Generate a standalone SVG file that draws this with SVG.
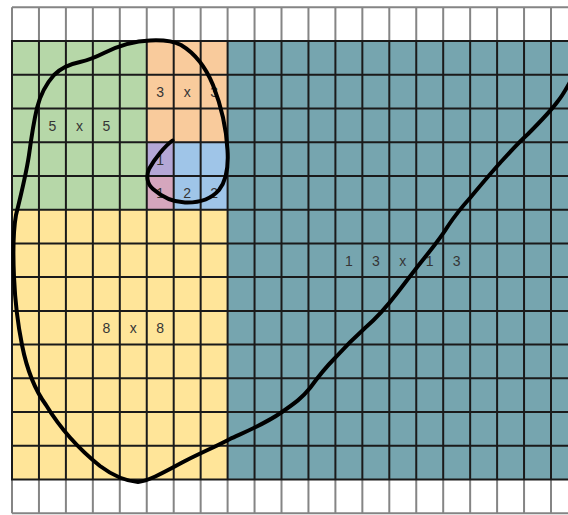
<svg xmlns="http://www.w3.org/2000/svg" width="568" height="515" viewBox="0 0 568 515">
<style>
.t{font-family:"Liberation Sans",Arial,sans-serif;font-size:14px;fill:#353535;text-anchor:middle}
.gd{stroke:#1a1a1a;stroke-width:2;fill:none}
.gl{stroke:#858585;stroke-width:2;fill:none}
.sp{stroke:#000;stroke-width:4;fill:none;stroke-linejoin:round;stroke-linecap:round}
</style>
<rect width="568" height="515" fill="#fff"/>
<g id="sq13"><rect x="227.6" y="41" width="350" height="438.5" fill="#76a5af"/></g>
<g id="sq8"><rect x="12" y="209.7" width="215.6" height="269.8" fill="#ffe599"/></g>
<g id="sq5"><rect x="12" y="41" width="134.75" height="168.7" fill="#b6d7a8"/></g>
<g id="sq3"><rect x="146.75" y="41" width="80.85" height="101.2" fill="#f9cb9c"/></g>
<g id="sq2"><rect x="173.7" y="142.2" width="53.9" height="67.5" fill="#9fc5e8"/></g>
<g id="sq1a"><rect x="146.75" y="142.2" width="26.95" height="33.7" fill="#b4a7d6"/></g>
<g id="sq1b"><rect x="146.75" y="175.9" width="26.95" height="33.8" fill="#d5a6bd"/></g>
<g id="grid">
<path class="gl" d="M12 7.3H568M12 513.3H568M12 7.3V41M38.95 7.3V41M65.9 7.3V41M92.85 7.3V41M119.8 7.3V41M146.75 7.3V41M173.7 7.3V41M200.65 7.3V41M227.6 7.3V41M254.55 7.3V41M281.5 7.3V41M308.45 7.3V41M335.4 7.3V41M362.35 7.3V41M389.3 7.3V41M416.25 7.3V41M443.2 7.3V41M470.15 7.3V41M497.1 7.3V41M524.05 7.3V41M551 7.3V41M12 479.5V513.3M38.95 479.5V513.3M65.9 479.5V513.3M92.85 479.5V513.3M119.8 479.5V513.3M146.75 479.5V513.3M173.7 479.5V513.3M200.65 479.5V513.3M227.6 479.5V513.3M254.55 479.5V513.3M281.5 479.5V513.3M308.45 479.5V513.3M335.4 479.5V513.3M362.35 479.5V513.3M389.3 479.5V513.3M416.25 479.5V513.3M443.2 479.5V513.3M470.15 479.5V513.3M497.1 479.5V513.3M524.05 479.5V513.3M551 479.5V513.3"/>
<path class="gd" d="M12 41V479.5M38.95 41V479.5M65.9 41V479.5M92.85 41V479.5M119.8 41V479.5M146.75 41V479.5M173.7 41V479.5M200.65 41V479.5M227.6 41V479.5M254.55 41V479.5M281.5 41V479.5M308.45 41V479.5M335.4 41V479.5M362.35 41V479.5M389.3 41V479.5M416.25 41V479.5M443.2 41V479.5M470.15 41V479.5M497.1 41V479.5M524.05 41V479.5M551 41V479.5M11 41H568M11 74.8H568M11 108.5H568M11 142.2H568M11 175.9H568M11 209.7H568M11 243.4H568M11 277.1H568M11 310.9H568M11 344.6H568M11 378.3H568M11 412.1H568M11 445.8H568M11 479.5H568"/>
</g>
<g id="labels">
<text class="t" x="52.4" y="131">5</text><text class="t" x="79.4" y="131">x</text><text class="t" x="106.3" y="131">5</text>
<text class="t" x="160.2" y="97">3</text><text class="t" x="187.2" y="97">x</text><text class="t" x="214.1" y="97">3</text>
<text class="t" x="160.2" y="164.5">1</text>
<text class="t" x="160.2" y="198.3">1</text><text class="t" x="187.2" y="198.3">2</text><text class="t" x="214.1" y="198.3">2</text>
<text class="t" x="106.3" y="333">8</text><text class="t" x="133.3" y="333">x</text><text class="t" x="160.2" y="333">8</text>
<text class="t" x="348.9" y="265.7">1</text><text class="t" x="375.8" y="265.7">3</text><text class="t" x="402.8" y="265.7">x</text><text class="t" x="429.7" y="265.7">1</text><text class="t" x="456.6" y="265.7">3</text>
</g>
<g id="connectors">
<path class="sp" d="M172.5 140.5 C165 146 155 158 149 169 C146 176 147 184 153 189 C162 197 172 202 185 202.5 C200 203 212 198 219 190 C227 180 228.5 165 227.5 150 C226.5 130 222 108 213 85 C206 68 196 54 181 45 C171 40 160 40 150 40.5 C133 41 118 46 104 53 C96 57 89 60 80 62 C70 64 61 68 54 75 C46 84 40 96 37 108 C33 125 31 140 29 155 C26 175 21 195 16 215 C13 232 13 255 14 277 C15 300 18 325 22 345 C27 370 35 390 46 405 C60 428 80 450 100 466 C112 475 125 481 138 482 C150 481 168 470 187 460 C205 451 217 446 230 439 C245 432 265 424 282 412 C295 403 302 398 310 388 C318 377 325 368 335 358 C345 347 355 337 365 328 C378 317 388 305 398 292 C408 279 417 267 426 256 C434 246 442 236 448 226 C454 217 461 208 470 198 C480 186 490 174 500 163 C510 152 518 143 528 134 C540 122 550 112 558 101 C563 95 566 89 570 82"/>
</g>
</svg>
